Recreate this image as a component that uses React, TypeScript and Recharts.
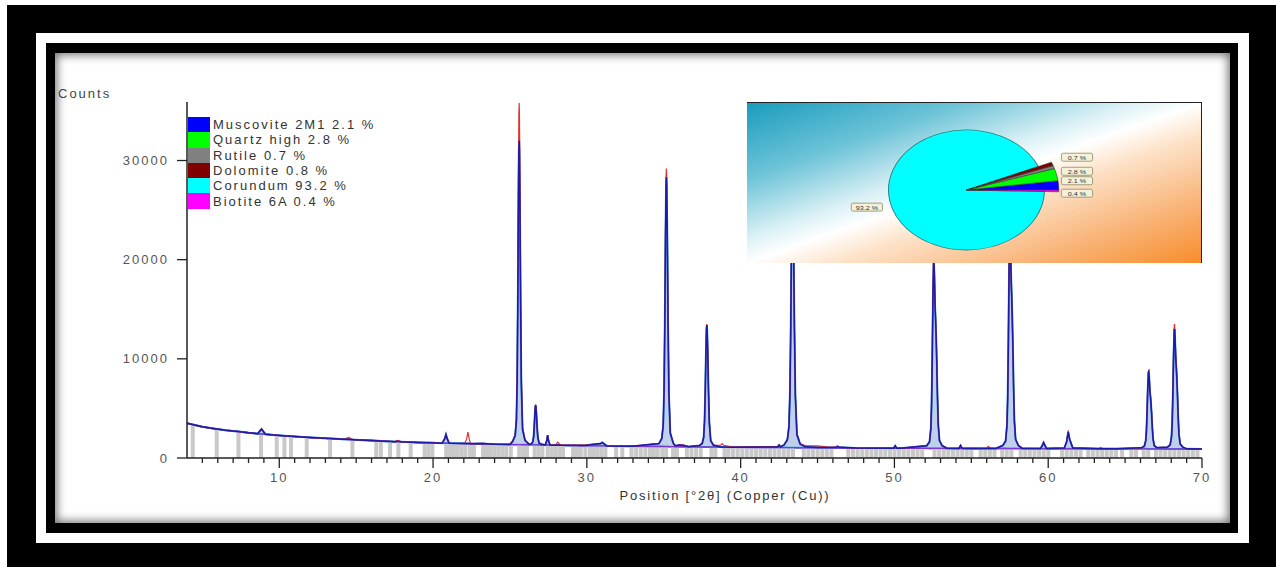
import React from 'react';
import { ComposedChart, Bar, Area, Line, XAxis, YAxis, PieChart, Pie, Cell } from 'recharts';

// phases found by the refinement (legend + inset pie)
const phaseNames = ['Muscovite 2M1', 'Quartz high', 'Rutile', 'Dolomite', 'Corundum', 'Biotite 6A'];
const phasePercents = [2.1, 2.8, 0.7, 0.8, 93.2, 0.4];
const phaseColors = ['#0000ff', '#00ff00', '#808080', '#800000', '#00ffff', '#ff00ff'];

const yTicks = [0, 10000, 20000, 30000];
const xTicks = Array.from({ length: 66 }, (_, i) => i + 5); // one tick per degree, 5..70

// [2theta, observed, calculated, background]
const profileRows: [number, number, number, number][] = [
  [4.0, 3480, 3500, 3500], [4.5, 3300, 3320, 3320], [5.0, 3130, 3150, 3150], [5.7, 2970, 2980, 2980],
  [6.5, 2800, 2810, 2810], [7.3, 2660, 2680, 2680], [8.0, 2540, 2540, 2540], [8.6, 2460, 2450, 2450],
  [8.75, 2800, 2750, 2430], [8.85, 2980, 2900, 2420], [8.95, 2750, 2700, 2410], [9.1, 2420, 2400, 2400],
  [10.0, 2270, 2280, 2280], [11.0, 2160, 2170, 2170],
  [12.0, 2060, 2070, 2070], [13.0, 1980, 1980, 1980], [14.2, 1890, 1880, 1880], [14.5, 2080, 1880, 1870],
  [14.8, 1860, 1850, 1850], [16.0, 1760, 1760, 1760], [17.5, 1660, 1650, 1650], [17.7, 1780, 1700, 1640],
  [17.9, 1630, 1630, 1630], [19.0, 1570, 1570, 1570], [19.9, 1560, 1530, 1530], [20.6, 1500, 1500, 1500],
  [20.75, 1900, 1920, 1495], [20.84, 2350, 2380, 1490], [20.93, 1880, 1900, 1485], [21.05, 1490, 1490, 1480],
  [22.05, 1450, 1450, 1450], [22.18, 1900, 1455, 1445], [22.27, 2600, 1460, 1440], [22.36, 1850, 1450, 1438],
  [22.45, 1440, 1440, 1435], [23.2, 1480, 1470, 1410], [24.0, 1400, 1390, 1390], [25.0, 1380, 1370, 1360],
  // corundum 012
  [25.18, 1720, 1680, 1350], [25.34, 2380, 2270, 1348], [25.42, 4100, 3800, 1347], [25.47, 8580, 7780, 1346],
  [25.51, 17190, 15450, 1346], [25.545, 27190, 24340, 1345], [25.58, 34770, 31080, 1345], [25.6, 35800, 32000, 1345],
  [25.615, 34770, 31080, 1345], [25.65, 28560, 25560, 1344], [25.69, 17880, 16060, 1344], [25.74, 8240, 7480, 1343],
  [25.82, 3070, 2880, 1342], [25.98, 1830, 1770, 1340],
  // quartz 101
  [26.25, 1370, 1370, 1330], [26.41, 1450, 1440, 1328], [26.49, 1650, 1640, 1327], [26.54, 2180, 2160, 1326],
  [26.58, 3200, 3150, 1326], [26.615, 4380, 4310, 1325], [26.65, 5280, 5180, 1325], [26.67, 5400, 5300, 1325],
  [26.685, 5280, 5180, 1324], [26.72, 4540, 4470, 1324], [26.76, 3280, 3230, 1323], [26.81, 2140, 2120, 1322],
  [26.89, 1530, 1520, 1321], [27.05, 1380, 1380, 1318],
  [27.3, 1320, 1310, 1310], [27.4, 1800, 1780, 1306], [27.45, 2300, 2300, 1305], [27.5, 1800, 1780, 1303],
  [27.6, 1350, 1320, 1300], [27.95, 1300, 1290, 1290], [28.1, 1600, 1300, 1285],
  [28.3, 1290, 1280, 1280], [29.9, 1320, 1250, 1240], [30.9, 1450, 1460, 1222], [31.0, 1540, 1560, 1220],
  [31.1, 1440, 1450, 1218], [31.3, 1220, 1220, 1215], [33.0, 1180, 1180, 1180],
  // corundum 104
  [34.69, 1460, 1450, 1158], [34.874, 1990, 1970, 1155], [34.966, 3390, 3320, 1154], [35.023, 7040, 6850, 1152],
  [35.07, 14050, 13640, 1151], [35.11, 22190, 21510, 1150], [35.15, 28360, 27490, 1150], [35.173, 29200, 28300, 1150],
  [35.19, 28360, 27490, 1150], [35.23, 23310, 22600, 1149], [35.277, 14610, 14180, 1148], [35.334, 6760, 6580, 1147],
  [35.426, 2550, 2510, 1146], [35.61, 1540, 1530, 1143],
  [35.75, 1230, 1220, 1141], [36.0, 1330, 1300, 1138], [36.3, 1290, 1260, 1134], [36.6, 1140, 1130, 1130],
  // corundum 110
  [37.32, 1250, 1250, 1116], [37.504, 1480, 1480, 1113], [37.596, 2100, 2090, 1112], [37.653, 3710, 3690, 1111],
  [37.7, 6810, 6760, 1110], [37.74, 10400, 10330, 1110], [37.78, 13130, 13030, 1110], [37.803, 13500, 13400, 1110],
  [37.82, 13130, 13030, 1109], [37.86, 10900, 10820, 1109], [37.907, 7060, 7010, 1108], [37.964, 3590, 3570, 1107],
  [38.056, 1730, 1730, 1106], [38.24, 1280, 1280, 1103],
  [38.7, 1300, 1110, 1097], [38.8, 1450, 1120, 1095], [38.9, 1280, 1110, 1094], [39.5, 1090, 1090, 1085],
  [41.7, 1160, 1120, 1060], [42.4, 1150, 1120, 1056], [42.5, 1340, 1300, 1055], [42.6, 1140, 1110, 1054],
  // corundum 113
  [42.83, 1330, 1330, 1050], [43.038, 1820, 1840, 1047], [43.142, 3120, 3160, 1046], [43.207, 6490, 6600, 1045],
  [43.259, 12980, 13210, 1044], [43.304, 20510, 20890, 1044], [43.35, 26220, 26710, 1043], [43.376, 27000, 27500, 1043],
  [43.396, 26220, 26710, 1043], [43.441, 21550, 21940, 1042], [43.493, 13500, 13740, 1042], [43.558, 6230, 6330, 1041],
  [43.662, 2340, 2370, 1040], [43.87, 1410, 1410, 1038],
  [44.2, 1250, 1130, 1034], [45.0, 1220, 1060, 1025], [45.6, 1120, 1050, 1020], [46.2, 1110, 1090, 1013],
  [46.3, 1200, 1180, 1012], [46.4, 1100, 1080, 1011],
  [47.5, 1000, 1000, 1000], [49.95, 990, 985, 981], [50.05, 1250, 1220, 980], [50.15, 985, 980, 979],
  [50.4, 980, 980, 978],
  // corundum 024
  [52.1, 1240, 1240, 971], [52.28, 1630, 1620, 970], [52.37, 3020, 2970, 970], [52.415, 5460, 5350, 969],
  [52.46, 10340, 10100, 969], [52.505, 16590, 16190, 969], [52.55, 20400, 19910, 969], [52.565, 20500, 20000, 969],
  [52.595, 19130, 18670, 968], [52.64, 15810, 15430, 968], [52.675, 14350, 14000, 968], [52.71, 12690, 12390, 968],
  [52.75, 10150, 9910, 967], [52.8, 6240, 6110, 967], [52.85, 3410, 3350, 967], [52.93, 1770, 1750, 966],
  [53.1, 1260, 1250, 966], [53.4, 1000, 990, 965],
  [54.2, 980, 970, 961], [54.3, 1300, 1250, 960], [54.4, 985, 975, 959], [54.6, 965, 960, 958],
  [56.0, 980, 960, 956], [56.1, 1180, 990, 955], [56.25, 990, 960, 954], [56.6, 960, 955, 953],
  // corundum 116
  [57.05, 1260, 1270, 951], [57.23, 1700, 1720, 951], [57.32, 3270, 3320, 950], [57.365, 6020, 6140, 950],
  [57.41, 11530, 11770, 950], [57.455, 18590, 18990, 950], [57.5, 22890, 23390, 950], [57.515, 23000, 23500, 950],
  [57.545, 21460, 21920, 950], [57.59, 17710, 18090, 949], [57.625, 16050, 16400, 949], [57.66, 14180, 14480, 949],
  [57.7, 11310, 11550, 949], [57.75, 6900, 7040, 948], [57.8, 3710, 3770, 948], [57.88, 1850, 1880, 948],
  [58.05, 1280, 1290, 947], [58.3, 980, 970, 946],
  [59.5, 960, 950, 942], [59.62, 1300, 1280, 941], [59.7, 1600, 1550, 941], [59.78, 1290, 1270, 940],
  [59.9, 960, 950, 940],
  [61.05, 1000, 1000, 938], [61.2, 1700, 1650, 937], [61.3, 2800, 2600, 937], [61.4, 1900, 1850, 936],
  [61.6, 1050, 1000, 935], [63.3, 960, 935, 931], [63.4, 1060, 935, 930], [63.55, 950, 930, 929],
  [64.5, 930, 928, 926],
  // corundum 214
  [66.07, 1030, 1030, 922], [66.25, 1190, 1190, 921], [66.34, 1750, 1740, 921], [66.385, 2730, 2710, 921],
  [66.43, 4700, 4650, 920], [66.475, 7220, 7140, 920], [66.52, 8760, 8660, 920], [66.535, 8800, 8700, 920],
  [66.565, 8250, 8160, 920], [66.61, 6910, 6830, 920], [66.645, 6320, 6250, 919], [66.68, 5650, 5590, 919],
  [66.72, 4620, 4580, 919], [66.77, 3050, 3020, 918], [66.82, 1910, 1890, 918], [66.9, 1240, 1240, 918],
  [67.07, 1040, 1040, 917],
  // corundum 300
  [67.75, 1090, 1080, 915], [67.93, 1340, 1330, 915], [68.02, 2240, 2180, 914], [68.065, 3810, 3690, 914],
  [68.11, 6960, 6720, 914], [68.155, 10980, 10580, 914], [68.2, 13440, 12940, 914], [68.215, 13500, 13000, 914],
  [68.245, 12620, 12150, 913], [68.29, 10480, 10100, 913], [68.325, 9540, 9190, 913], [68.36, 8470, 8170, 913],
  [68.4, 6830, 6590, 912], [68.45, 4310, 4180, 912], [68.5, 2490, 2430, 912], [68.58, 1430, 1410, 911],
  [68.75, 1100, 1100, 911], [69.0, 930, 925, 910], [70.0, 905, 900, 900],
];

// reference pattern sticks [2theta, counts]
const referenceSticks: [number, number][] = [
  [4.37, 3400], [5.93, 2950], [7.34, 2650], [8.81, 2350], [9.83, 2250], [10.33, 2200], [10.76, 2150],
  [11.78, 2050], [13.3, 1900], [14.75, 1800], [16.3, 1700], [16.6, 1690], [17.2, 1650], [17.74, 1620],
  [18.54, 1560], [19.45, 1450], [19.7, 1450], [19.95, 1450], [20.85, 1400], [21.1, 1400], [21.35, 1380],
  [21.6, 1380], [21.85, 1380], [22.1, 1360], [22.4, 1360], [22.65, 1350], [23.25, 1330], [23.5, 1330],
  [23.75, 1320], [24.0, 1300], [24.25, 1300], [24.5, 1300], [24.75, 1290], [25.05, 1280], [25.6, 1270],
  [25.85, 1270], [26.1, 1260], [26.6, 1250], [26.85, 1250], [27.1, 1240], [27.45, 1240], [27.7, 1230],
  [27.95, 1230], [28.2, 1220], [28.45, 1220], [29.1, 1200], [29.35, 1200], [29.6, 1190], [29.9, 1190],
  [30.2, 1180], [30.45, 1180], [30.7, 1170], [30.95, 1170], [31.2, 1160], [31.9, 1150], [32.3, 1150],
  [32.9, 1140], [33.2, 1140], [33.5, 1130], [33.8, 1130], [34.1, 1120], [34.35, 1120], [34.6, 1110],
  [34.9, 1110], [35.15, 1100], [35.6, 1100], [35.85, 1090], [36.5, 1080], [36.8, 1080], [37.1, 1070],
  [37.4, 1070], [38.1, 1060], [38.35, 1060], [38.95, 1050], [39.2, 1050], [39.5, 1040], [39.8, 1040],
  [40.1, 1030], [40.4, 1030], [40.7, 1020], [41.0, 1020], [41.3, 1010], [41.6, 1010], [41.9, 1000],
  [42.2, 1000], [42.5, 990], [42.8, 990], [43.1, 980], [43.4, 980], [44.1, 970], [44.4, 970], [44.7, 960],
  [45.0, 960], [45.3, 950], [45.6, 950], [45.9, 940], [47.0, 930], [47.3, 930], [47.6, 920], [47.9, 920],
  [48.2, 910], [48.5, 910], [48.8, 900], [49.1, 900], [49.4, 900], [49.7, 890], [50.0, 890], [50.3, 890],
  [50.6, 880], [50.9, 880], [51.2, 880], [51.5, 880], [51.8, 870], [52.6, 870], [52.9, 870], [53.2, 860],
  [53.5, 860], [53.8, 860], [54.1, 860], [54.4, 860], [54.7, 850], [55.0, 850], [55.6, 850], [55.9, 850],
  [56.2, 850], [56.5, 850], [57.0, 850], [57.3, 850], [57.6, 850], [58.2, 840], [58.5, 840], [58.8, 840],
  [59.1, 840], [59.4, 840], [59.7, 840], [60.0, 840], [60.9, 840], [61.2, 840], [61.5, 840], [61.8, 840],
  [62.1, 830], [62.6, 830], [62.9, 830], [63.2, 830], [63.5, 830], [63.8, 830], [64.1, 830], [64.4, 830],
  [64.8, 830], [65.4, 830], [65.7, 830], [66.2, 830], [66.5, 830], [67.0, 830], [67.3, 830], [67.6, 830],
  [67.9, 830], [68.2, 830], [68.5, 830], [68.8, 830], [69.1, 830], [69.4, 830], [69.7, 830],
];

const profile = profileRows.map(([x, obs, calc, bkg]) => ({ x, obs, calc, bkg }));
const sticks = referenceSticks.map(([x, h]) => ({ x, h }));
const pieData = phaseNames.map((name, i) => ({ name, value: phasePercents[i] }));

const FONT = "'Liberation Sans', Arial, sans-serif";
const RAD = Math.PI / 180;
const CORUNDUM = 4;
const STICK_W = 4;
// vertical nudges so the small-slice labels stack like the original (null = not labelled)
const labelNudge: (number | null)[] = [-3, 2, -2, null, 2.5, 2];

function XTick(props: any) {
  const { x, y, payload } = props;
  const v = payload.value;
  const major = v % 10 === 0;
  return (
    <g>
      <line x1={x} y1={y} x2={x} y2={y + (major ? 10 : 5)} stroke="#222" strokeWidth={1.3} />
      {major && (
        <text x={x} y={y + 19} textAnchor="middle" dominantBaseline="central" fill="#555"
          fontSize={13} fontFamily={FONT} letterSpacing={2}>{v}</text>
      )}
    </g>
  );
}

// fixed-width stick centred on the bar slot recharts gives us
function Stick(props: any) {
  const { x, y, width, height } = props;
  if (!height || height <= 0) return null;
  return <rect x={x + width / 2 - STICK_W / 2} y={y} width={STICK_W} height={height} fill="#c9c9c9" />;
}

function PieLabel(props: any) {
  const { cx, cy, midAngle, index } = props;
  const nudge = labelNudge[index];
  if (nudge === null || nudge === undefined) return null;
  let x: number;
  let y: number;
  if (index === CORUNDUM) {
    x = cx + 78 * Math.cos(-midAngle * RAD);
    y = cy + 78 * Math.sin(-midAngle * RAD) + nudge;
  } else {
    x = cx + 85;
    y = cy - 95 * Math.sin(midAngle * RAD) + nudge;
  }
  return (
    <g>
      <rect x={x - 12} y={y - 4} width={24} height={8} rx={1.5} fill="#f4f1d8" stroke="#8c8a6c" strokeWidth={0.7} />
      <text x={x} y={y + 0.3} textAnchor="middle" dominantBaseline="central" fontSize={5.5}
        fontFamily={FONT} fill="#333">{phasePercents[index].toFixed(1)} %</text>
    </g>
  );
}

function PhasePie() {
  return (
    <div style={{
      position: 'absolute', left: 747, top: 102, width: 455, height: 161, overflow: 'hidden',
      boxSizing: 'border-box', borderTop: '1.5px solid #222', borderRight: '1.5px solid #222',
      background: 'linear-gradient(to bottom right, #1a9cbe 0%, #6ec4d8 24%, #d9f0f5 42%, #ffffff 50%, #fde2c8 60%, #f9b57a 80%, #f78d2c 100%)',
    }}>
      <div style={{ position: 'absolute', left: 38, top: 0, transform: 'scaleX(1.3)', transformOrigin: '175px 0' }}>
        <PieChart width={350} height={161}>
          <Pie data={pieData} dataKey="value" cx={175} cy={82} outerRadius={60} innerRadius={0}
            startAngle={0} endAngle={360} isAnimationActive={false} label={false}>
            {pieData.map((d, i) => (
              <Cell key={d.name} fill={i === CORUNDUM ? '#00ffff' : 'transparent'}
                stroke={i === CORUNDUM ? '#2b8585' : 'none'} strokeWidth={0.8} />
            ))}
          </Pie>
          <Pie data={pieData} dataKey="value" cx={175} cy={82} outerRadius={71} innerRadius={0}
            startAngle={0} endAngle={360} isAnimationActive={false} label={PieLabel} labelLine={false}>
            {pieData.map((d, i) => (
              <Cell key={d.name} fill={i === CORUNDUM ? 'transparent' : phaseColors[i]}
                stroke={i === CORUNDUM ? 'none' : '#333'} strokeWidth={0.5} />
            ))}
          </Pie>
        </PieChart>
      </div>
    </div>
  );
}

function PhaseLegend() {
  return (
    <div style={{ position: 'absolute', left: 188, top: 117 }}>
      {phaseNames.map((n, i) => (
        <div key={n} style={{ display: 'flex', alignItems: 'center', height: 15.3 }}>
          <div style={{ width: 22, height: 15.3, background: phaseColors[i] }} />
          <span style={{ marginLeft: 3, fontSize: 13, letterSpacing: 2, color: '#333', fontFamily: FONT, lineHeight: '15px' }}>
            {n} {phasePercents[i].toFixed(1)} %
          </span>
        </div>
      ))}
    </div>
  );
}

export default function App() {
  return (
    <div style={{ position: 'absolute', left: 0, top: 0, width: 1276, height: 567, background: '#fff', overflow: 'hidden' }}>
      <div style={{ position: 'absolute', left: 7, top: 5, right: 0, bottom: 0, background: '#000' }} />
      <div style={{ position: 'absolute', left: 36, top: 33, width: 1213, height: 510, background: '#fff' }} />
      <div style={{ position: 'absolute', left: 46, top: 43, width: 1192, height: 490, background: '#000' }} />
      <div style={{
        position: 'absolute', left: 55, top: 53, width: 1175, height: 470, background: '#fff',
        boxShadow: 'inset 0 0 10px 2px rgba(0,0,0,0.55)',
      }}>
        <ComposedChart width={1175} height={470} data={sticks} margin={{ top: 49, right: 28, left: 0, bottom: 35 }} barGap={0}>
          <XAxis dataKey="x" type="number" domain={[4, 70]} allowDataOverflow ticks={xTicks} interval={0}
            height={30} tickSize={0} tickMargin={0} tickLine={false} tick={<XTick />}
            axisLine={{ stroke: '#222', strokeWidth: 1.5 }} />
          <XAxis xAxisId="sticks" dataKey="x" type="number" domain={[4, 70]} allowDataOverflow hide />
          <XAxis xAxisId="top" orientation="top" type="number" domain={[4, 70]} height={0}
            tick={false} tickLine={false} axisLine={{ stroke: '#222', strokeWidth: 1.5 }} />
          <YAxis type="number" domain={[0, 35900]} allowDataOverflow ticks={yTicks} interval={0} width={132}
            tickSize={10} tickMargin={8} tickLine={{ stroke: '#222', strokeWidth: 1.3 }}
            axisLine={{ stroke: '#222', strokeWidth: 1.5 }}
            tick={{ fill: '#555', fontSize: 13, fontFamily: FONT, letterSpacing: 2 }} />
          <YAxis yAxisId="right" orientation="right" type="number" domain={[0, 1]} width={0}
            tick={false} tickLine={false} axisLine={{ stroke: '#222', strokeWidth: 1.5 }} />
          <Bar xAxisId="sticks" dataKey="h" fill="#c9c9c9" barSize={2} shape={<Stick />} isAnimationActive={false} />
          <Area data={profile} dataKey={(d: any) => [d.bkg, d.calc]} type="linear" fill="#bfd0ea" fillOpacity={1}
            stroke="#3a96f0" strokeWidth={2} isAnimationActive={false} dot={false} />
          <Line data={profile} dataKey="bkg" type="linear" stroke="#7a3cd2" strokeWidth={1.4} dot={false} isAnimationActive={false} />
          <Line data={profile} dataKey="obs" type="linear" stroke="#e2302c" strokeWidth={1.2} dot={false} isAnimationActive={false} />
          <Line data={profile} dataKey="calc" type="linear" stroke="#1b1ba8" strokeWidth={1.5} dot={false} isAnimationActive={false} />
        </ComposedChart>
      </div>
      <div style={{ position: 'absolute', left: 58, top: 86, fontSize: 13, letterSpacing: 2, color: '#444', fontFamily: FONT }}>Counts</div>
      <div style={{ position: 'absolute', left: 525, width: 400, top: 488, textAlign: 'center', fontSize: 13, letterSpacing: 1.8, color: '#333', fontFamily: FONT }}>
        Position [°2θ] (Copper (Cu))
      </div>
      <PhaseLegend />
      <PhasePie />
    </div>
  );
}
